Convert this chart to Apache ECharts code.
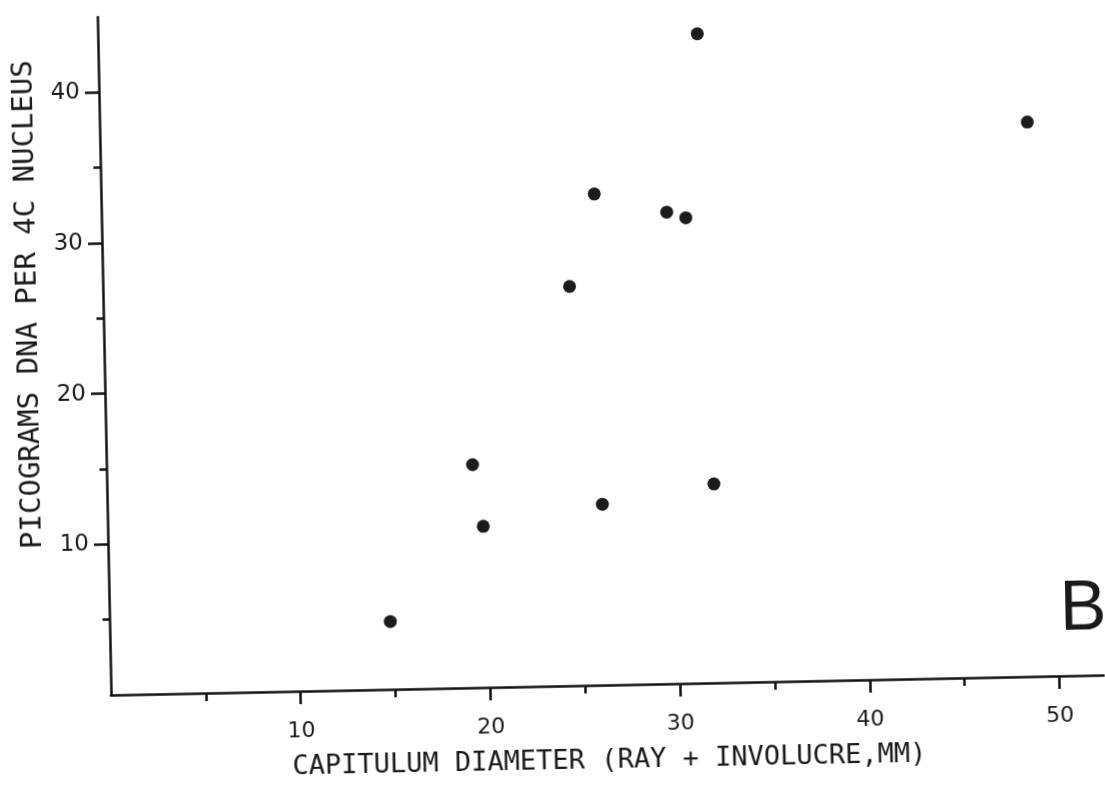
<!DOCTYPE html>
<html>
<head>
<meta charset="utf-8">
<script src="https://cdn.jsdelivr.net/npm/echarts@6/dist/echarts.min.js"></script>
<style>
  html, body { margin: 0; padding: 0; background: #fff; overflow: hidden; }
  /* the scanned figure is tilted a little, so tilt the whole chart the same way */
  #chart {
    position: absolute; left: 0; top: 0;
    width: 1105px; height: 790px;
    transform: rotate(-1.15deg);
    transform-origin: 110px 695px;
  }
</style>
</head>
<body>
<div id="chart"></div>
<script>
// capitulum diameter (mm) and picograms DNA per 4C nucleus
const capDiameter = [31.6, 48.9, 26.0, 29.8, 30.8, 24.6, 19.3, 19.8, 26.1, 32.0, 14.8];
const dnaPg       = [43.1, 36.8, 32.6, 31.3, 30.9, 26.5, 14.8, 10.7, 12.0, 13.2, 4.5];

const xMajor = [10, 20, 30, 40, 50];
const xMinor = [5, 15, 25, 35, 45];
const yMajor = [10, 20, 30, 40];
const yMinor = [5, 15, 25, 35];

const ink = "#1a1a1a";
const numFont = "DejaVu Sans";
const letterFont = "DejaVu Sans Mono";

const chart = echarts.init(document.getElementById("chart"));

const points = capDiameter.map((x, i) => [x, dnaPg[i]]);

const option = {
  animation: false,
  backgroundColor: "#fff",
  title: {
    text: "B",
    right: -8,
    top: 590,
    textStyle: { fontFamily: "Liberation Sans", fontSize: 70, fontWeight: "normal", color: ink }
  },
  grid: { left: 111, right: 0, top: 17, bottom: 95 },
  xAxis: [
    {
      type: "value",
      min: 0,
      max: 52.4,
      interval: 10,
      name: "CAPITULUM DIAMETER (RAY + INVOLUCRE,MM)",
      nameLocation: "middle",
      nameGap: 62,
      nameTextStyle: { fontFamily: letterFont, fontSize: 27, color: ink },
      axisLine: { lineStyle: { color: "#111", width: 2.5 } },
      axisTick: { customValues: xMajor, length: 13, lineStyle: { color: "#111", width: 2.5 } },
      axisLabel: { customValues: xMajor, margin: 29, fontFamily: numFont, fontSize: 22, color: ink },
      splitLine: { show: false }
    },
    {
      type: "value",
      min: 0,
      max: 52.4,
      position: "bottom",
      axisLine: { show: false },
      axisTick: { customValues: xMinor, length: 8, lineStyle: { color: "#111", width: 2.5 } },
      axisLabel: { show: false },
      splitLine: { show: false }
    }
  ],
  yAxis: [
    {
      type: "value",
      min: 0,
      max: 45,
      interval: 10,
      name: "PICOGRAMS DNA PER 4C NUCLEUS",
      nameLocation: "middle",
      nameGap: 60,
      nameTextStyle: { fontFamily: letterFont, fontSize: 29, color: ink, padding: [0, 0, 0, 106] },
      axisLine: { lineStyle: { color: "#111", width: 2.5 } },
      axisTick: { customValues: yMajor, length: 14, lineStyle: { color: "#111", width: 2.5 } },
      axisLabel: { customValues: yMajor, margin: 19, fontFamily: numFont, fontSize: 23, color: ink },
      splitLine: { show: false }
    },
    {
      type: "value",
      min: 0,
      max: 45,
      position: "left",
      axisLine: { show: false },
      axisTick: { customValues: yMinor, length: 7, lineStyle: { color: "#111", width: 2.5 } },
      axisLabel: { show: false },
      splitLine: { show: false }
    }
  ],
  series: [
    {
      type: "scatter",
      data: points,
      symbol: "circle",
      symbolSize: 13,
      itemStyle: { color: "#1c1c1c", opacity: 1 }
    }
  ]
};

chart.setOption(option);
</script>
</body>
</html>
